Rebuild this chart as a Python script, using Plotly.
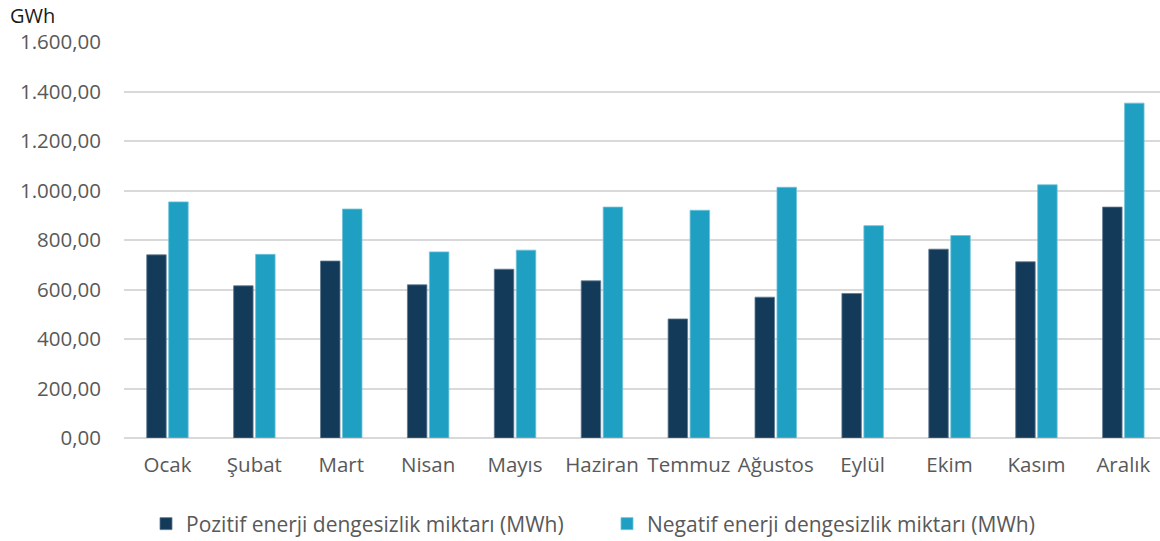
import plotly.graph_objects as go

# Monthly imbalance volumes
months = ["Ocak", "Şubat", "Mart", "Nisan", "Mayıs", "Haziran",
          "Temmuz", "Ağustos", "Eylül", "Ekim", "Kasım", "Aralık"]
positive = [740, 615, 715, 619, 682, 635, 481, 569, 584, 763, 712, 933]
negative = [954, 742, 925, 752, 759, 933, 920, 1013, 858, 818, 1023, 1353]

series_names = ["Pozitif enerji dengesizlik miktarı (MWh)",
                "Negatif enerji dengesizlik miktarı (MWh)"]
y_ticks = [0, 200, 400, 600, 800, 1000, 1200, 1400, 1600]

DARK = "#143A5A"
TEAL = "#1F9FC1"
TEXT = "#595959"
FONT = "Open Sans"

fig = go.Figure()
fig.add_trace(go.Bar(x=months, y=positive, name=series_names[0],
                     marker=dict(color=DARK, line=dict(color="#5F7A90", width=0.8))))
fig.add_trace(go.Bar(x=months, y=negative, name=series_names[1],
                     marker=dict(color=TEAL, line=dict(color="#6CC3DB", width=0.8))))

fig.update_layout(
    width=1160, height=541,
    margin=dict(l=124, r=0, t=42, b=103),
    paper_bgcolor="white", plot_bgcolor="white",
    separators=",.",
    barmode="group", bargap=0.494, bargroupgap=0.114,
    font=dict(family=FONT, color=TEXT, size=20),
    showlegend=True,
    legend=dict(orientation="h", xref="container", x=146 / 1160, xanchor="left",
                yref="container", y=17 / 541, yanchor="middle",
                font=dict(family=FONT, size=21, color=TEXT),
                traceorder="normal", itemwidth=30, entrywidth=416),
    xaxis=dict(range=[-0.5, 11.422], showgrid=False, showline=False,
               ticks="", ticklabelstandoff=12,
               tickfont=dict(family=FONT, size=20.5, color=TEXT)),
    yaxis=dict(range=[0, 1600], tickvals=y_ticks, tickformat=",.2f",
               showgrid=True, gridcolor="#D9D9D9", gridwidth=1.5,
               zeroline=True, zerolinecolor="#D9D9D9", zerolinewidth=1.5,
               ticks="", ticklabelstandoff=22,
               tickfont=dict(family=FONT, size=20.5, color=TEXT)),
)

fig.add_annotation(text="GWh", xref="paper", yref="paper", x=0, y=1,
                   xshift=-116, yshift=27, xanchor="left", yanchor="middle",
                   showarrow=False, font=dict(family=FONT, size=20, color="#1A1A1A"))

fig.write_html("out.html")
